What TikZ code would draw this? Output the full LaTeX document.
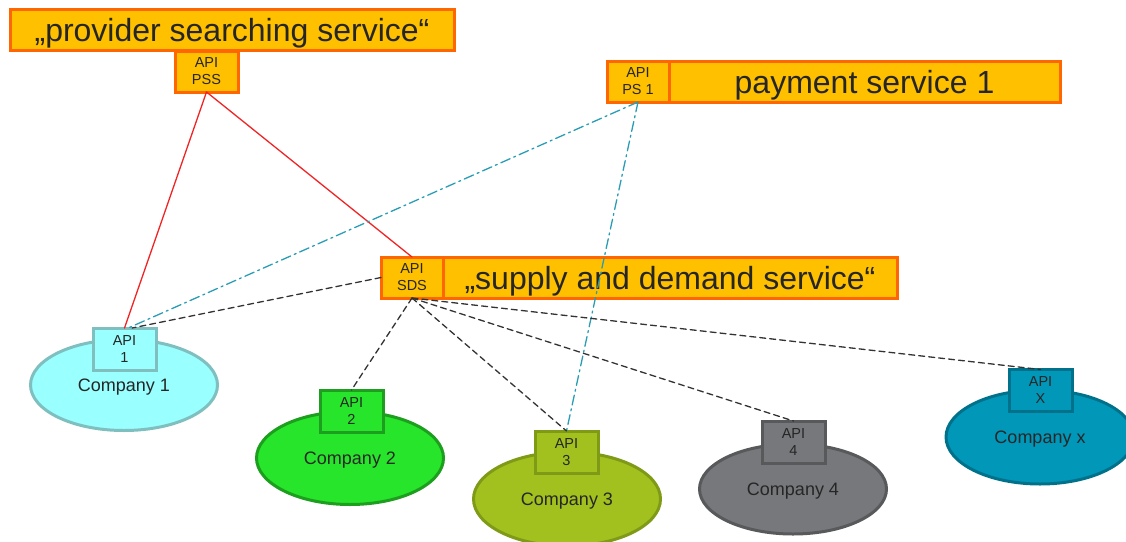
\documentclass[tikz,border=0pt]{standalone}
\usepackage{fontspec}
\setmainfont{Liberation Sans}
\usepackage{tikz}
\usetikzlibrary{shapes.geometric,positioning}
\definecolor{txt}{HTML}{262626}
\definecolor{servfill}{HTML}{FFC000}
\definecolor{servline}{HTML}{FF6600}
\definecolor{onefill}{HTML}{99FFFF}
\definecolor{oneline}{HTML}{7FBFBF}
\definecolor{twofill}{HTML}{26E52A}
\definecolor{twoline}{HTML}{1E9E1E}
\definecolor{threefill}{HTML}{A2C11E}
\definecolor{threeline}{HTML}{7F9A17}
\definecolor{fourfill}{HTML}{77787B}
\definecolor{fourline}{HTML}{58595B}
\definecolor{xfill}{HTML}{0097B9}
\definecolor{xline}{HTML}{00718B}
\definecolor{pssred}{HTML}{F02424}
\definecolor{payblue}{HTML}{2A9DB5}
\definecolor{sdsgray}{HTML}{333333}

\begin{document}
\begin{tikzpicture}[x=1pt,y=-1pt,line cap=round,
  service/.style={draw=servline,fill=servfill,line width=3pt,minimum height=41pt,
    inner sep=0pt,outer sep=0pt,text=txt,text depth=0pt,font=\fontsize{32}{36}\selectfont},
  apibox/.style={line width=3pt,minimum width=63pt,minimum height=42pt,inner sep=0pt,
    outer sep=0pt,align=center,text=txt,font=\fontsize{14.5}{17}\selectfont},
  company/.style={ellipse,line width=3pt,minimum width=187pt,minimum height=92pt,
    inner sep=0pt,outer sep=0pt,text=txt,text depth=0pt,font=\fontsize{18}{20}\selectfont},
  servapi/.style={apibox,draw=servline,fill=servfill,minimum width=62pt,minimum height=41pt},
  pssline/.style={pssred,line width=1.3pt},
  payline/.style={payblue,line width=1.3pt,dash pattern=on 10pt off 4pt on 2pt off 4pt},
  sdsline/.style={sdsgray,line width=1.3pt,dash pattern=on 6pt off 4pt}]
\useasboundingbox (0,0) rectangle (1126,541);
% services
\node[service,minimum width=444pt] (pss) at (232,30) {„provider searching service“};
\node[servapi,minimum width=63pt] (pssapi) at (206.5,71.5) {API\\PSS};
\node[servapi] (psapi) at (638,81.5) {API\\PS 1};
\node[service,minimum width=391pt,right=0pt of psapi] (ps) {payment service 1};
\node[servapi] (sdsapi) at (412,277.5) {API\\SDS};
\node[service,minimum width=454pt,right=0pt of sdsapi] (sds) {„supply and demand service“};
% companies
\node[company,draw=oneline,fill=onefill,minimum height=91pt] (c1) at (124,385) {Company 1};
\node[apibox,draw=oneline,fill=onefill] (api1) at (124.5,349) {API\\1};
\node[company,draw=twoline,fill=twofill,minimum height=93pt] (c2) at (350,458) {Company 2};
\node[apibox,draw=twoline,fill=twofill] (api2) at (351.5,411) {API\\2};
\node[company,draw=threeline,fill=threefill,minimum height=94pt] (c3) at (567,499) {Company 3};
\node[apibox,draw=threeline,fill=threefill] (api3) at (566.5,452) {API\\3};
\node[company,draw=fourline,fill=fourfill,minimum height=90pt] (c4) at (793,489) {Company 4};
\node[apibox,draw=fourline,fill=fourfill] (api4) at (793.5,442) {API\\4};
\node[company,draw=xline,fill=xfill,minimum width=188pt,minimum height=94pt] (cx) at (1040,437) {Company x};
\node[apibox,draw=xline,fill=xfill] (apix) at (1040.5,390.5) {API\\X};
% provider searching
\draw[pssline] (pssapi.south) -- (api1.north);
\draw[pssline] (pssapi.south) -- (sdsapi.north);
% payment
\draw[payline] (psapi.south) -- (api1.80);
\draw[payline] (psapi.south) -- (api3.north);
% supply and demand
\draw[sdsline] (sdsapi.west) -- (api1.70);
\foreach \c in {2,3,4,x}
  \draw[sdsline] (sdsapi.south) -- (api\c.north);
\end{tikzpicture}
\end{document}
